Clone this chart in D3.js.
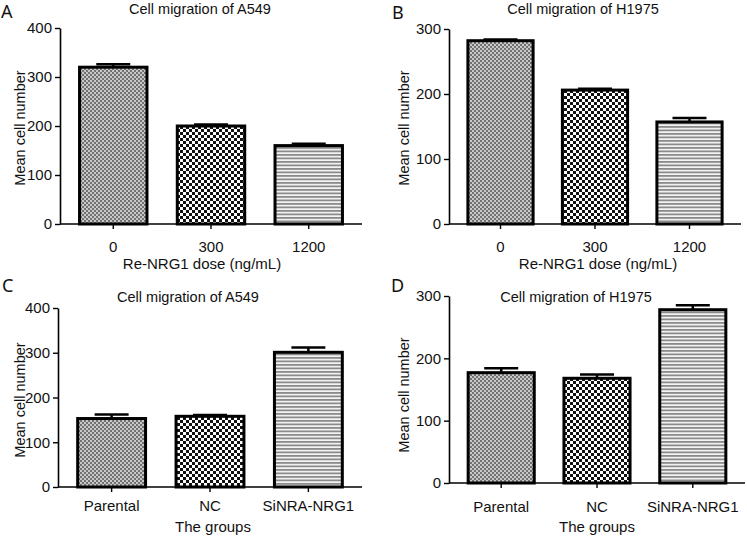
<!DOCTYPE html>
<html><head><meta charset="utf-8">
<script src="https://cdn.jsdelivr.net/npm/d3@7"></script>
<style>
html,body{margin:0;padding:0;background:#fff;}
svg{display:block;font-family:"Liberation Sans",Arial,sans-serif;}
</style></head>
<body>
<svg id="chart" width="747" height="536"></svg>
<script>
// ---- data ----
const doseCategories = ["0", "300", "1200"];
const groupCategories = ["Parental", "NC", "SiNRA-NRG1"];
const a549DoseMeans = [320, 200, 160];
const a549DoseErrors = [6, 3, 4];
const h1975DoseMeans = [282, 206, 157];
const h1975DoseErrors = [2, 2, 6];
const a549GroupMeans = [153, 158, 301];
const a549GroupErrors = [9, 3, 11];
const h1975GroupMeans = [177, 168, 278];
const h1975GroupErrors = [7, 6, 7];
const ticks400 = [0, 100, 200, 300, 400];
const ticks300 = [0, 100, 200, 300];
const panelLetters = ["A", "B", "C", "D"];
const panelTitles = ["Cell migration of A549", "Cell migration of H1975", "Cell migration of A549", "Cell migration of H1975"];
const xTitles = ["Re-NRG1 dose (ng/mL)", "Re-NRG1 dose (ng/mL)", "The groups", "The groups"];
const yTitle = "Mean cell number";

const svg = d3.select("#chart");
const defs = svg.append("defs");

// fine gray checker
const p1 = defs.append("pattern").attr("id","pFine").attr("patternUnits","userSpaceOnUse").attr("width",4).attr("height",4);
p1.append("rect").attr("width",4).attr("height",4).attr("fill","#c8c8c8");
p1.append("rect").attr("width",2).attr("height",2).attr("fill","#727272");
p1.append("rect").attr("x",2).attr("y",2).attr("width",2).attr("height",2).attr("fill","#727272");
// coarse black/white checker
const p2 = defs.append("pattern").attr("id","pCheck").attr("patternUnits","userSpaceOnUse").attr("width",6).attr("height",6);
p2.append("rect").attr("width",6).attr("height",6).attr("fill","#ffffff");
p2.append("rect").attr("width",3).attr("height",3).attr("fill","#111");
p2.append("rect").attr("x",3).attr("y",3).attr("width",3).attr("height",3).attr("fill","#111");
// horizontal lines
const p3 = defs.append("pattern").attr("id","pLines").attr("patternUnits","userSpaceOnUse").attr("width",4).attr("height",3.5);
p3.append("rect").attr("width",4).attr("height",3.5).attr("fill","#f4f4f4");
p3.append("rect").attr("width",4).attr("height",1.8).attr("fill","#8a8a8a");
const fills = ["url(#pFine)", "url(#pCheck)", "url(#pLines)"];

const panels = [
  {cats: doseCategories, means: a549DoseMeans, errs: a549DoseErrors, ticks: ticks400,
   ax: 60, axEnd: 362, y0: 224, yTop: 28, letter:[1,18], title:[200,14], ytx:20, yty:128, xtl:252, xt:[202,269]},
  {cats: doseCategories, means: h1975DoseMeans, errs: h1975DoseErrors, ticks: ticks300,
   ax: 449, axEnd: 741, y0: 224, yTop: 29, letter:[392,19], title:[583,14], ytx:404, yty:128, xtl:252, xt:[598,269]},
  {cats: groupCategories, means: a549GroupMeans, errs: a549GroupErrors, ticks: ticks400,
   ax: 58, axEnd: 362, y0: 487, yTop: 308, letter:[2,292], title:[188,302], ytx:20, yty:400, xtl:511, xt:[213,532]},
  {cats: groupCategories, means: h1975GroupMeans, errs: h1975GroupErrors, ticks: ticks300,
   ax: 449, axEnd: 745, y0: 483, yTop: 296, letter:[391,292], title:[576,302], ytx:404, yty:395, xtl:512, xt:[597,532]}
];

panels.forEach((p, i) => {
  const g = svg.append("g");
  const x = d3.scaleBand().domain(p.cats).range([p.ax, p.axEnd]).paddingInner(0.31).paddingOuter(0.2);
  const y = d3.scaleLinear().domain([0, d3.max(p.ticks)]).range([p.y0, p.yTop]);

  // bars
  g.selectAll("rect.bar").data(p.means).join("rect")
    .attr("x", (d, j) => x(p.cats[j]))
    .attr("y", d => y(d))
    .attr("width", x.bandwidth())
    .attr("height", d => p.y0 - y(d))
    .attr("fill", (d, j) => fills[j])
    .attr("stroke", "#000").attr("stroke-width", 3);

  // error bars (upper)
  const capW = 34;
  p.means.forEach((m, j) => {
    const cx = x(p.cats[j]) + x.bandwidth() / 2;
    g.append("line").attr("x1", cx).attr("x2", cx).attr("y1", y(m)).attr("y2", y(m + p.errs[j]))
      .attr("stroke", "#000").attr("stroke-width", 2.5);
    g.append("line").attr("x1", cx - capW/2).attr("x2", cx + capW/2).attr("y1", y(m + p.errs[j])).attr("y2", y(m + p.errs[j]))
      .attr("stroke", "#000").attr("stroke-width", 2.5);
  });

  // y axis
  const yAxis = d3.axisLeft(y).tickValues(p.ticks).tickSize(5).tickPadding(3).tickSizeOuter(0);
  const ya = g.append("g").attr("transform", `translate(${p.ax},0)`).call(yAxis);
  ya.select(".domain").attr("stroke-width", 1.6);
  ya.selectAll(".tick line").attr("stroke-width", 1.4);
  ya.selectAll("text").attr("font-size", 15).attr("fill", "#111").attr("font-family", "Liberation Sans, Arial, sans-serif");

  // x axis
  const xAxis = d3.axisBottom(x).tickSize(5).tickSizeOuter(0).tickPadding(0);
  const xa = g.append("g").attr("transform", `translate(0,${p.y0})`).call(xAxis);
  xa.select(".domain").attr("stroke-width", 1.6).attr("d", `M${p.ax},0H${p.axEnd}`);
  xa.selectAll(".tick line").attr("stroke-width", 1.4);
  xa.selectAll("text").attr("font-size", 15).attr("fill", "#111").attr("font-family", "Liberation Sans, Arial, sans-serif")
    .attr("dy", null).attr("y", p.xtl - p.y0);

  // panel letter
  svg.append("text").attr("x", p.letter[0]).attr("y", p.letter[1]).text(panelLetters[i])
    .attr("font-size", 18).attr("font-family", "Noto Sans, sans-serif").attr("fill", "#111");
  // title
  svg.append("text").attr("x", p.title[0]).attr("y", p.title[1]).text(panelTitles[i])
    .attr("text-anchor", "middle").attr("font-size", 14.5).attr("fill", "#111");
  // y title
  svg.append("text").attr("transform", `translate(${p.ytx},${p.yty}) rotate(-90)`).text(yTitle)
    .attr("text-anchor", "middle").attr("dy", "0.35em").attr("font-size", 14.5).attr("fill", "#111");
  // x title
  svg.append("text").attr("x", p.xt[0]).attr("y", p.xt[1]).text(xTitles[i])
    .attr("text-anchor", "middle").attr("font-size", 15).attr("fill", "#111");
});
</script>
</body></html>
